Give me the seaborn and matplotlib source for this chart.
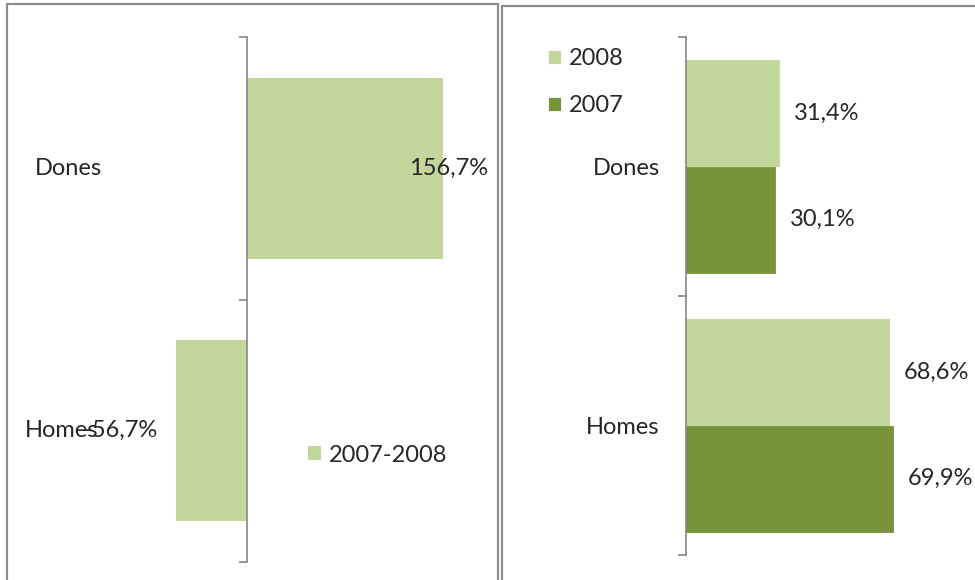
import matplotlib.pyplot as plt
import matplotlib.transforms as mtransforms
from matplotlib.patches import Rectangle
import seaborn as sns
import pandas as pd

# data
categories = ["Dones", "Homes"]
change_label = "2007-2008"
change_values = [156.7, -56.7]
years = ["2008", "2007"]
share_2008 = [31.4, 68.6]
share_2007 = [30.1, 69.9]

light_green = "#C3D69B"
dark_green = "#77933C"
grey = "#868686"
txt = "#262626"

sns.set_style("white")
plt.rcParams["font.family"] = ["Lato", "DejaVu Sans"]
plt.rcParams["font.size"] = 17
plt.rcParams["text.color"] = txt

W, H = 975, 580
fig = plt.figure(figsize=(W / 100, H / 100), dpi=100)


def fbox(x0, y0, x1, y1):
    # pixel box (top-left origin) -> figure fraction rect
    return [x0 / W, 1 - y1 / H, (x1 - x0) / W, (y1 - y0) / H]


def pct(v):
    return f"{v:.1f}%".replace(".", ",")


# panel frames
for x0, y0, x1 in [(7, 4, 498), (502, 6, 990)]:
    fig.add_artist(Rectangle((x0 / W, -0.1), (x1 - x0) / W, 1.1 - y0 / H,
                             transform=fig.transFigure, fill=False,
                             edgecolor="#8c8c8c", linewidth=1.6))

# ---- left panel: change 2007-2008
ax1 = fig.add_axes(fbox(20, 37, 490, 562))
df1 = pd.DataFrame({"cat": categories, "val": change_values, "serie": change_label})
sns.barplot(data=df1, x="val", y="cat", hue="serie", palette=[light_green],
            orient="h", width=0.69, ax=ax1, saturation=1, linewidth=0)
ax1.set_xlim(-181.5, 194.3)
ax1.set_ylim(1.5, -0.5)

trans = mtransforms.blended_transform_factory(ax1.transAxes, ax1.transData)
for i, (cat, xf) in enumerate(zip(categories, [0.032, 0.011])):
    ax1.text(xf, i, cat, transform=trans, ha="left", va="center")

for i, v in enumerate(change_values):
    if v >= 0:
        ax1.annotate(pct(v), (v, i), xytext=(6, 0), textcoords="offset pixels",
                     ha="center", va="center")
    else:
        ax1.annotate(pct(v), (v, i), xytext=(-18, 0), textcoords="offset pixels",
                     ha="right", va="center")

h, l = ax1.get_legend_handles_labels()
ax1.legend(h, l, loc="center left", bbox_to_anchor=(308 / W, 1 - 455 / H),
           bbox_transform=fig.transFigure, frameon=False, borderpad=0,
           borderaxespad=0, handlelength=0.55, handleheight=0.55,
           handletextpad=0.35)

# ---- right panel: share by year
ax2 = fig.add_axes(fbox(686, 37, 975, 555))
df2 = pd.DataFrame({
    "cat": categories * 2,
    "val": share_2008 + share_2007,
    "year": [years[0]] * 2 + [years[1]] * 2,
})
sns.barplot(data=df2, x="val", y="cat", hue="year", hue_order=years,
            palette=[light_green, dark_green], orient="h", width=0.82,
            ax=ax2, saturation=1, linewidth=0.6)
for cont in ax2.containers:
    for bar in cont:
        bar.set_edgecolor(bar.get_facecolor())
ax2.set_xlim(0, 97.8)
ax2.set_ylim(1.5, -0.5)
for cont, vals in zip(ax2.containers, [share_2008, share_2007]):
    ax2.bar_label(cont, labels=[pct(v) for v in vals], padding=11, fontsize=17)

h, l = ax2.get_legend_handles_labels()
ax2.legend(h, l, loc="upper left", bbox_to_anchor=(548 / W, 1 - 48 / H),
           bbox_transform=fig.transFigure, frameon=False, borderpad=0,
           borderaxespad=0, handlelength=0.55, handleheight=0.55,
           handletextpad=0.35, labelspacing=1.1)

for ax in (ax1, ax2):
    for s in ("top", "right", "bottom"):
        ax.spines[s].set_visible(False)
    ax.spines["left"].set_color(grey)
    ax.spines["left"].set_linewidth(1.2)
    ax.spines["left"].set_zorder(5)
    ax.set_xlabel("")
    ax.set_ylabel("")
    ax.set_xticks([])
    ax.set_yticks([-0.5, 0.5, 1.5], minor=True)
    ax.tick_params(axis="y", which="minor", length=6, width=1.2, color=grey,
                   direction="out", left=True)

ax1.spines["left"].set_position(("data", 0))
ax1.tick_params(axis="y", which="major", length=0, labelleft=False)
ax2.tick_params(axis="y", which="major", length=0, pad=19, labelsize=17,
                labelcolor=txt)

fig.savefig("out.png", dpi=100)
